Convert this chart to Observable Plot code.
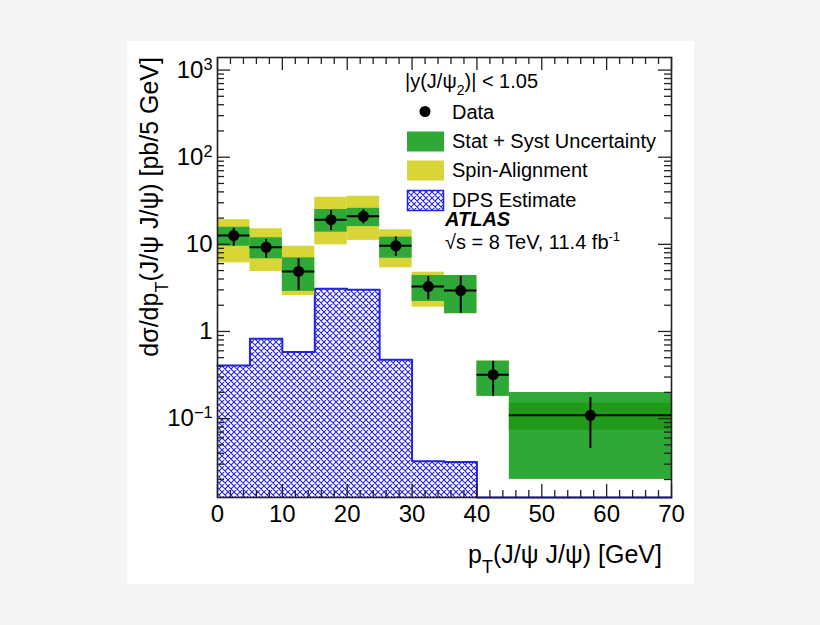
<!DOCTYPE html>
<html><head><meta charset="utf-8">
<script src="https://cdn.jsdelivr.net/npm/d3@7"></script>
<script src="https://cdn.jsdelivr.net/npm/@observablehq/plot@0.6"></script>
<style>
html,body{margin:0;padding:0;background:#f4f4f4;width:820px;height:625px;overflow:hidden;}
#panel{position:absolute;left:127px;top:41px;width:567px;height:543px;background:#fff;}
#chart{position:absolute;left:0;top:0;}
</style></head><body>
<div id="panel"></div><div id="chart"></div>
<script>
// ---- data ----
const binLo   = [0, 5, 10, 15, 20, 25, 30, 35, 40, 45];
const binHi   = [5, 10, 15, 20, 25, 30, 35, 40, 45, 70];
const binMid  = [2.5, 7.5, 12.5, 17.5, 22.5, 27.5, 32.5, 37.5, 42.5, 57.5];
const xsec    = [12.6, 9.26, 4.88, 19.2, 21.0, 9.61, 3.28, 2.95, 0.319, 0.109];
const errHi   = [15.3, 11.4, 6.82, 24.4, 24.9, 12.1, 4.28, 4.28, 0.454, 0.174];
const errLo   = [9.51, 6.93, 2.95, 14.4, 17.2, 7.25, 2.31, 1.62, 0.180, 0.0453];
const statSystHi = [15.7, 11.9, 7.0, 25.1, 25.9, 12.1, 4.39, 4.39, 0.457, 0.199];
const statSystLo = [9.51, 6.82, 2.88, 13.8, 16.0, 6.93, 2.21, 1.60, 0.180, 0.0201];
const spinHi  = [19.2, 15.1, 9.51, 34.7, 35.6, 14.7, 4.79, 4.39, 0.457, 0.199];
const spinLo  = [6.14, 4.88, 2.59, 9.87, 11.1, 5.38, 1.90, 1.60, 0.180, 0.0201];
const innerHi = [null, null, null, null, null, null, null, null, null, 0.150];
const innerLo = [null, null, null, null, null, null, null, null, null, 0.0734];
const dpsLo   = [0, 5, 10, 15, 20, 25, 30, 35];
const dpsHi   = [5, 10, 15, 20, 25, 30, 35, 40];
const dps     = [0.408, 0.826, 0.580, 3.09, 3.01, 0.474, 0.0324, 0.0318];
const xTicks  = [0, 10, 20, 30, 40, 50, 60, 70];
const xMinor  = [2,4,6,8,12,14,16,18,22,24,26,28,32,34,36,38,42,44,46,48,52,54,56,58,62,64,66,68];
const yTicks  = [1000, 100, 10, 1, 0.1];
const yTickBase = ["10", "10", "10", "1", "10"];
const yTickExp  = ["3", "2", "", "", "\u22121"];
const legendLabels = ["Data", "Stat + Syst Uncertainty", "Spin-Alignment", "DPS Estimate"];
const headerText = ["|y(J/\u03C8", "2", ")| < 1.05"];
const atlasText = "ATLAS";
const energyText = ["\u221As = 8 TeV, 11.4 fb", "-1"];
const xTitle = ["p", "T", "(J/\u03C8 J/\u03C8) [GeV]"];
const yTitle = ["d\u03C3/dp", "T", "(J/\u03C8 J/\u03C8) [pb/5 GeV]"];

const yMin = 0.01243, yMax = 1394;
const FONT = "'Liberation Sans', Arial, Helvetica, sans-serif";
const W = 820, H = 625, mL = 217, mR = 149, mT = 57, mB = 128;
const innerW = W - mL - mR, innerH = H - mT - mB;
const yMinor = [];
for (let e = -2; e <= 3; e++) for (let k = 2; k <= 9; k++) {
  const v = k * Math.pow(10, e);
  if (v > yMin && v < yMax) yMinor.push(v);
}

const bins = binLo.map((d, i) => ({
  lo: d, hi: binHi[i], mid: binMid[i], v: xsec[i], eh: errHi[i], el: errLo[i],
  gh: statSystHi[i], gl: statSystLo[i], sh: spinHi[i], sl: spinLo[i], ih: innerHi[i], il: innerLo[i]
}));
const dpsBins = dps.map((v, i) => ({lo: dpsLo[i], hi: dpsHi[i], v}));
const dpsLine = dps.map((v, i) => ({x: dpsLo[i], y: v}))
  .concat([{x: dpsHi[dpsHi.length - 1], y: yMin}, {x: binHi[binHi.length - 1], y: yMin}]);

const GREEN = "#2ea836", DARKGREEN = "#219a1c", YELLOW = "#d8d636", BLUE = "#2323e0", AX = "#222";
const MAJ = 13, MIN = 7;

const plot = Plot.plot({
  width: W, height: H, marginLeft: mL, marginRight: mR, marginTop: mT, marginBottom: mB,
  style: {background: "transparent", fontFamily: FONT, color: "#000"},
  x: {domain: [0, 70]},
  y: {type: "log", domain: [yMin, yMax]},
  marks: [
    Plot.rect(dpsBins, {x1: "lo", x2: "hi", y1: () => yMin, y2: "v", fill: "url(#dpsHatch)"}),
    Plot.line(dpsLine, {x: "x", y: "y", curve: "step-after", stroke: BLUE, strokeWidth: 2}),
    Plot.rect(bins, {x1: "lo", x2: "hi", y1: "sl", y2: "sh", fill: YELLOW}),
    Plot.rect(bins, {x1: "lo", x2: "hi", y1: "gl", y2: "gh", fill: GREEN}),
    Plot.rect(bins.filter(d => d.ih != null), {x1: "lo", x2: "hi", y1: "il", y2: "ih", fill: DARKGREEN}),
    Plot.ruleY(bins, {y: "v", x1: "lo", x2: "hi", stroke: "#000", strokeWidth: 2}),
    Plot.ruleX(bins, {x: "mid", y1: "el", y2: "eh", stroke: "#000", strokeWidth: 2}),
    Plot.dot(bins, {x: "mid", y: "v", r: 5.5, fill: "#000"}),
    // ticks (inward, all four sides)
    Plot.ruleX(xTicks, {stroke: AX, strokeWidth: 1.3, insetTop: innerH - MAJ}),
    Plot.ruleX(xTicks, {stroke: AX, strokeWidth: 1.3, insetBottom: innerH - MAJ}),
    Plot.ruleX(xMinor, {stroke: AX, strokeWidth: 1.3, insetTop: innerH - MIN}),
    Plot.ruleX(xMinor, {stroke: AX, strokeWidth: 1.3, insetBottom: innerH - MIN}),
    Plot.ruleY(yTicks, {stroke: AX, strokeWidth: 1.3, insetRight: innerW - MAJ}),
    Plot.ruleY(yTicks, {stroke: AX, strokeWidth: 1.3, insetLeft: innerW - MAJ}),
    Plot.ruleY(yMinor, {stroke: AX, strokeWidth: 1.3, insetRight: innerW - MIN}),
    Plot.ruleY(yMinor, {stroke: AX, strokeWidth: 1.3, insetLeft: innerW - MIN}),
    Plot.frame({stroke: AX, strokeWidth: 1.6}),
    Plot.axisX({ticks: xTicks, tickSize: 0, tickPadding: 7, fontSize: 24, label: null}),
    Plot.axisY({ticks: yTicks, tickSize: 0, tickPadding: 5, fontSize: 24, label: null,
      tickFormat: d => {
        const i = yTicks.findIndex(v => Math.abs(Math.log10(v / d)) < 1e-6);
        return yTickExp[i] ? yTickBase[i] + "^" + yTickExp[i] : yTickBase[i];
      }})
  ]
});
document.getElementById("chart").appendChild(plot);

const svg = d3.select(plot);
// hatch pattern
const defs = svg.insert("defs", ":first-child");
const pat = defs.append("pattern").attr("id", "dpsHatch").attr("patternUnits", "userSpaceOnUse")
  .attr("width", 6).attr("height", 6);
pat.append("rect").attr("width", 6).attr("height", 6).attr("fill", "#fff");
pat.append("path").attr("d", "M0,0L6,6M0,6L6,0M-1,1L1,-1M5,7L7,5M-1,5L1,7M5,-1L7,1")
  .attr("stroke", BLUE).attr("stroke-width", 1.1).attr("fill", "none");

// superscripts on y tick labels
svg.selectAll("text").each(function () {
  const t = this.textContent;
  if (t.includes("^")) {
    const [b, e] = t.split("^");
    const sel = d3.select(this);
    sel.text(b);
    sel.append("tspan").attr("dy", "-0.5em").attr("font-size", "0.68em").text(e);
  }
});

const g = svg.append("g").attr("font-family", FONT).attr("fill", "#000");
// axis titles
const xt = g.append("text").attr("x", 662).attr("y", 563).attr("text-anchor", "end").attr("font-size", 25);
xt.append("tspan").text(xTitle[0]);
xt.append("tspan").attr("dy", 10).attr("font-size", 18).text(xTitle[1]);
xt.append("tspan").attr("dy", -10).text(xTitle[2]);
const yt = g.append("text").attr("transform", "translate(158,57) rotate(-90)").attr("text-anchor", "end").attr("font-size", 25);
yt.append("tspan").text(yTitle[0]);
yt.append("tspan").attr("dy", 10).attr("font-size", 18).text(yTitle[1]);
yt.append("tspan").attr("dy", -10).text(yTitle[2]);

// legend
const lg = g.append("g").attr("font-size", 20).attr("text-anchor", "start");
const h0 = lg.append("text").attr("x", 405).attr("y", 88);
h0.append("tspan").text(headerText[0]);
h0.append("tspan").attr("dy", 7).attr("font-size", 14).text(headerText[1]);
h0.append("tspan").attr("dy", -7).text(headerText[2]);
lg.append("circle").attr("cx", 425).attr("cy", 111.5).attr("r", 5.5).attr("fill", "#000");
lg.append("text").attr("x", 452).attr("y", 118.5).text(legendLabels[0]);
lg.append("rect").attr("x", 407).attr("y", 131.5).attr("width", 37).attr("height", 20).attr("fill", GREEN);
lg.append("text").attr("x", 452).attr("y", 147.5).text(legendLabels[1]);
lg.append("rect").attr("x", 407).attr("y", 160.5).attr("width", 37).attr("height", 20).attr("fill", YELLOW);
lg.append("text").attr("x", 452).attr("y", 177).text(legendLabels[2]);
lg.append("rect").attr("x", 407.5).attr("y", 190.5).attr("width", 36).attr("height", 20)
  .attr("fill", "url(#dpsHatch)").attr("stroke", BLUE).attr("stroke-width", 1.5);
lg.append("text").attr("x", 452).attr("y", 206.5).text(legendLabels[3]);
lg.append("text").attr("x", 445).attr("y", 226).attr("font-weight", "bold").attr("font-style", "italic").text(atlasText);
const en = lg.append("text").attr("x", 445).attr("y", 249);
en.append("tspan").text(energyText[0]);
en.append("tspan").attr("dy", -8).attr("font-size", 13).text(energyText[1]);
</script>
</body></html>
